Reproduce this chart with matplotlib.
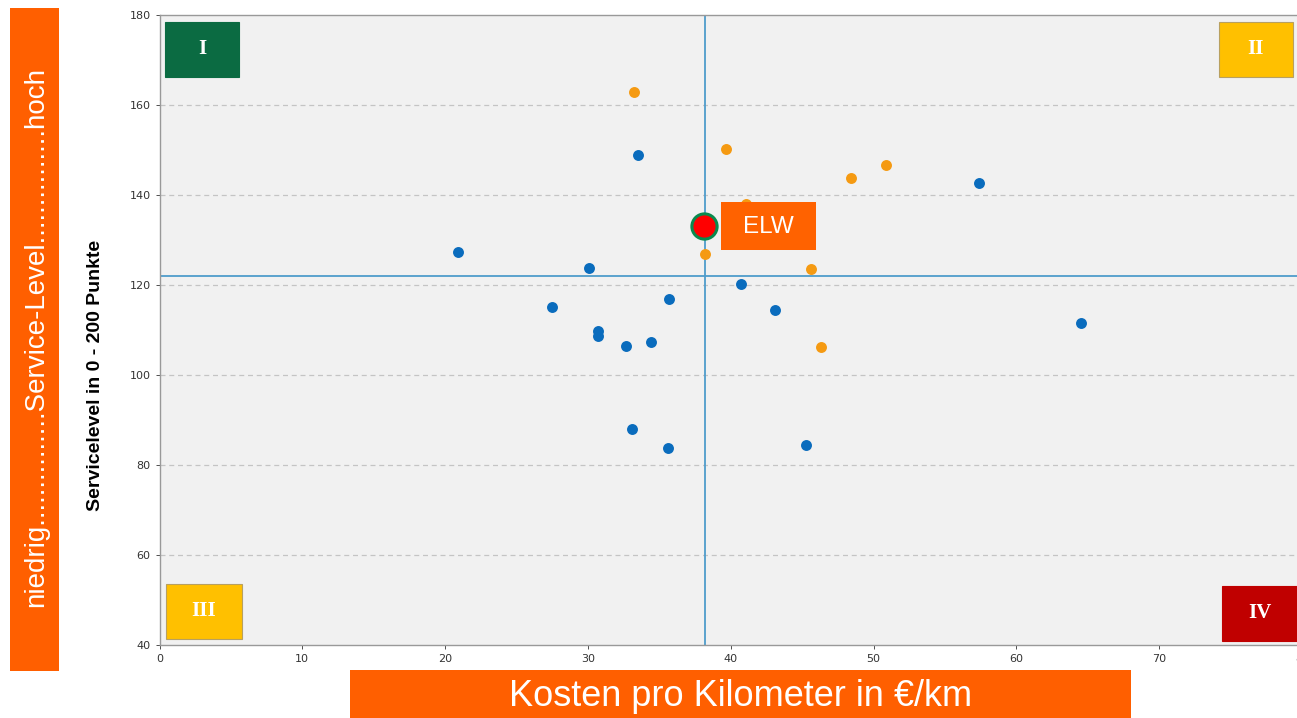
import matplotlib
matplotlib.use("Agg")
import matplotlib.pyplot as plt
from matplotlib.patches import Rectangle

# --- data ---
blue_x = [20.9, 33.5, 30.1, 27.5, 35.7, 30.7, 30.7, 32.7, 34.4, 40.7, 43.1, 33.1, 35.6, 45.3, 57.4, 64.5]
blue_y = [127.3, 148.9, 123.8, 115.1, 116.9, 109.8, 108.7, 106.4, 107.3, 120.2, 114.4, 88.0, 83.8, 84.4, 142.7, 111.6]

orange_x = [33.2, 39.7, 41.1, 48.4, 50.9, 38.2, 45.6, 46.3]
orange_y = [162.9, 150.2, 138.0, 143.8, 146.7, 126.9, 123.6, 106.2]

elw_x = [38.1]
elw_y = [133.1]

mean_x = 38.2
mean_y = 122.0

x_ticks = [0, 10, 20, 30, 40, 50, 60, 70, 80]
y_ticks = [40, 60, 80, 100, 120, 140, 160, 180]
quadrants = ["I", "II", "III", "IV"]
quad_colors = ["#0b6b42", "#ffc000", "#ffc000", "#c00000"]

W, H = 1297, 718
fig = plt.figure(figsize=(W / 100, H / 100), dpi=100)

ax = fig.add_axes([159.5 / W, 1 - 645 / H, (1302 - 159.5) / W, 630 / H])
ax.set_facecolor("#f1f1f1")
ax.set_xlim(0, 80)
ax.set_ylim(40, 180)
ax.set_xticks(x_ticks)
ax.set_yticks(y_ticks)
ax.tick_params(labelsize=8, colors="#333333", length=3, width=0.6)
for s in ax.spines.values():
    s.set_color("#999999")
    s.set_linewidth(1)

for yv in y_ticks[1:-1]:
    ax.axhline(yv, color="#c4c4c4", lw=0.9, ls=(0, (4, 3)), zorder=1)

ax.axvline(mean_x, color="#4f9ccb", lw=1.3, zorder=2)
ax.axhline(mean_y, color="#4f9ccb", lw=1.3, zorder=2)

ax.scatter(blue_x, blue_y, s=62, color="#0a6cbd", zorder=3, linewidths=0)
ax.scatter(orange_x, orange_y, s=62, color="#f59a12", zorder=3, linewidths=0)
ax.scatter(elw_x, elw_y, s=330, color="#ff0000", edgecolors="#0a8a4e", linewidths=2.2, zorder=5)

# y axis title
fig.text(96 / W, 1 - 375 / H, "Servicelevel in 0 - 200 Punkte", rotation=90, fontsize=14,
         fontweight="bold", family="Liberation Sans", ha="center", va="center")

# quadrant boxes
quad_boxes = [(165, 22, 239, 77), (1219, 22, 1293, 77), (166, 584, 242, 639), (1222, 586, 1297, 641)]
for lab, col, (x0, y0, x1, y1) in zip(quadrants, quad_colors, quad_boxes):
    fig.patches.append(Rectangle((x0 / W, 1 - y1 / H), (x1 - x0) / W, (y1 - y0) / H,
                                 transform=fig.transFigure, facecolor=col,
                                 edgecolor="#b8a060" if col == "#ffc000" else col, lw=0.8, zorder=6))
    fig.text((x0 + x1) / 2 / W, 1 - (y0 + y1) / 2 / H, lab, color="white", fontsize=15,
             fontweight="bold", family="Liberation Serif", ha="center", va="center", zorder=7)

# ELW label
fig.patches.append(Rectangle((721 / W, 1 - 250 / H), 95 / W, 48 / H, transform=fig.transFigure,
                             facecolor="#ff6200", edgecolor="none", zorder=6))
fig.text(768.5 / W, 1 - 227 / H, "ELW", color="white", fontsize=17.5, family="Liberation Sans",
         ha="center", va="center", zorder=7)

# left orange bar
fig.patches.append(Rectangle((10 / W, 1 - 671 / H), 49 / W, 663 / H, transform=fig.transFigure,
                             facecolor="#ff5f00", edgecolor="none"))
fig.text(36 / W, 1 - 337 / H, "niedrig" + "." * 15 + "Service-Level" + "." * 15 + "hoch",
         rotation=90, color="white", fontsize=20, family="Liberation Sans",
         ha="center", va="center")

# bottom orange bar
fig.patches.append(Rectangle((350 / W, 0), 781 / W, 48 / H, transform=fig.transFigure,
                             facecolor="#ff5f00", edgecolor="none"))
fig.text(741 / W, 22 / H, "Kosten pro Kilometer in €/km", color="white", fontsize=26,
         family="Liberation Sans", ha="center", va="center")

fig.savefig("out.png", dpi=100)
